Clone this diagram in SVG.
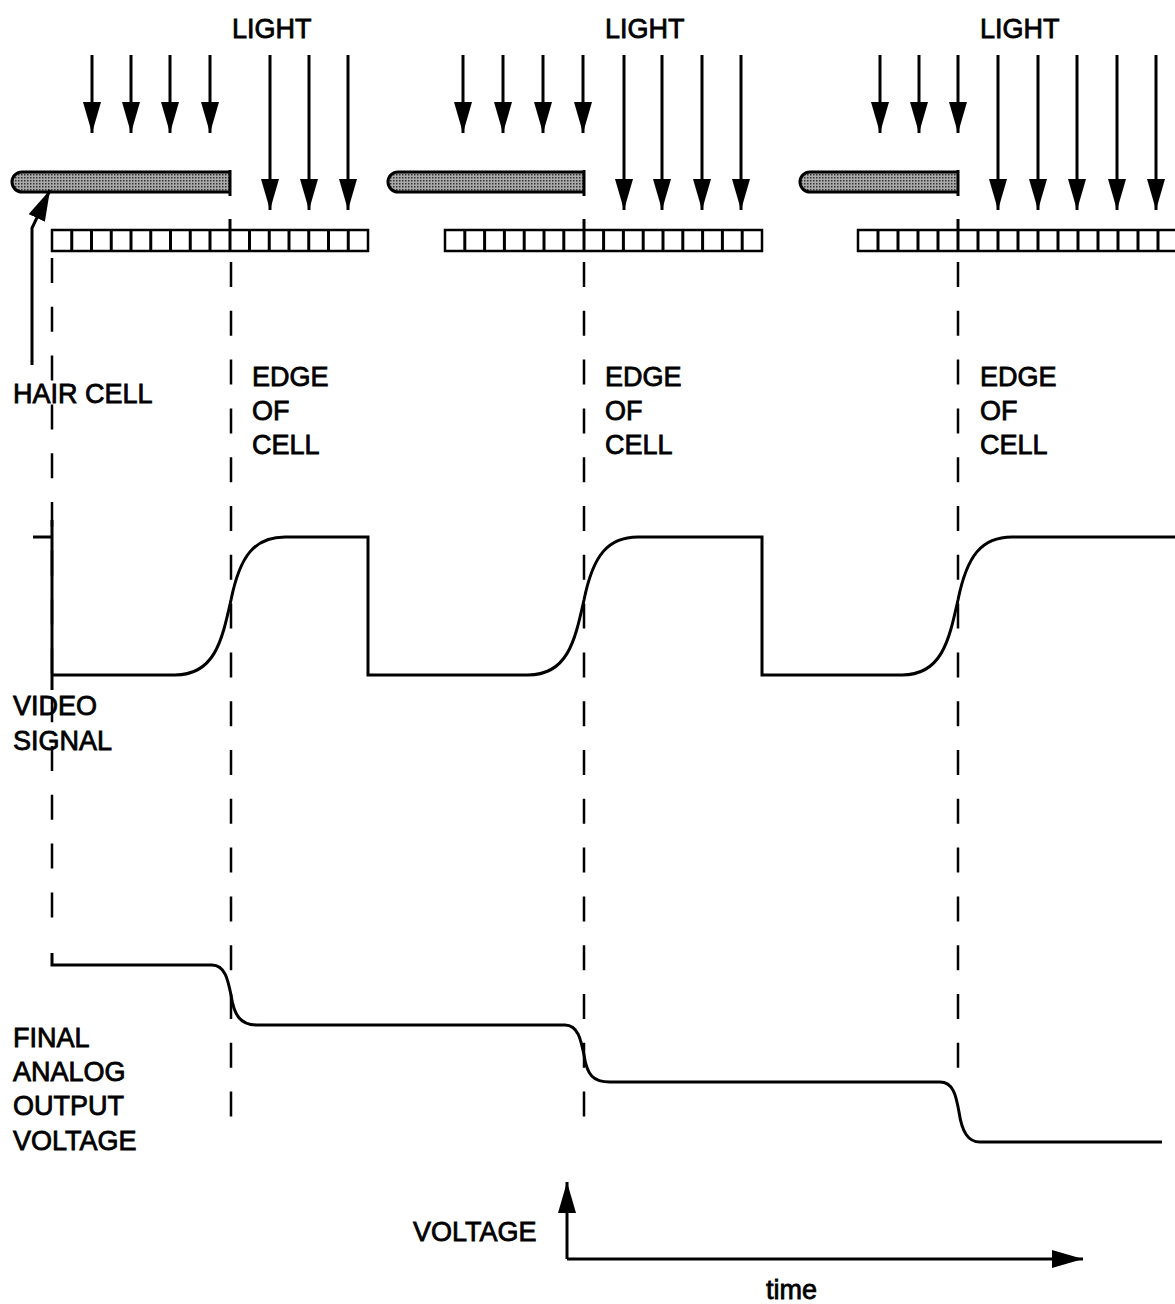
<svg xmlns="http://www.w3.org/2000/svg" width="1175" height="1304" viewBox="0 0 1175 1304">
<style>
.t{font-family:"Liberation Sans",Arial,sans-serif;font-size:27px;fill:#000;stroke:#000;stroke-width:0.8}
.ln{stroke:#000;stroke-width:3;fill:none}
.ar{stroke:#000;stroke-width:3;fill:none;marker-end:url(#ah)}
.ds{stroke:#000;stroke-width:2.5;fill:none;stroke-dasharray:25 23.8}
.hc{stroke:#000;stroke-width:3;fill:url(#hatch)}
.cell{stroke:#000;stroke-width:2.5;fill:#fff}
.wv{stroke:#000;stroke-width:3;fill:none}
</style>
<defs>
<marker id="ah" markerUnits="userSpaceOnUse" markerWidth="34" markerHeight="20" refX="31" refY="9" orient="auto">
<path d="M0,0 L31,9 L0,18 Z" fill="#000"/>
</marker>
<pattern id="hatch" width="3" height="3" patternUnits="userSpaceOnUse">
<rect width="3" height="3" fill="#aaaaaa"/>
<rect width="1.5" height="1.5" fill="#333"/>
</pattern>
</defs>

<g id="light-labels">
<text class="t" x="232" y="38">LIGHT</text>
<text class="t" x="605" y="38">LIGHT</text>
<text class="t" x="980" y="38">LIGHT</text>
</g>

<g id="light-arrows">
<line class="ar" x1="92" y1="55" x2="92" y2="133"/>
<line class="ar" x1="131" y1="55" x2="131" y2="133"/>
<line class="ar" x1="170" y1="55" x2="170" y2="133"/>
<line class="ar" x1="210" y1="55" x2="210" y2="133"/>
<line class="ar" x1="270" y1="55" x2="270" y2="210"/>
<line class="ar" x1="309" y1="55" x2="309" y2="210"/>
<line class="ar" x1="348" y1="55" x2="348" y2="210"/>

<line class="ar" x1="463" y1="55" x2="463" y2="133"/>
<line class="ar" x1="503" y1="55" x2="503" y2="133"/>
<line class="ar" x1="543" y1="55" x2="543" y2="133"/>
<line class="ar" x1="583" y1="55" x2="583" y2="133"/>
<line class="ar" x1="624" y1="55" x2="624" y2="210"/>
<line class="ar" x1="662" y1="55" x2="662" y2="210"/>
<line class="ar" x1="702" y1="55" x2="702" y2="210"/>
<line class="ar" x1="741" y1="55" x2="741" y2="210"/>

<line class="ar" x1="880" y1="55" x2="880" y2="133"/>
<line class="ar" x1="919" y1="55" x2="919" y2="133"/>
<line class="ar" x1="958" y1="55" x2="958" y2="133"/>
<line class="ar" x1="998" y1="55" x2="998" y2="210"/>
<line class="ar" x1="1038" y1="55" x2="1038" y2="210"/>
<line class="ar" x1="1077" y1="55" x2="1077" y2="210"/>
<line class="ar" x1="1117" y1="55" x2="1117" y2="210"/>
<line class="ar" x1="1156" y1="55" x2="1156" y2="210"/>
</g>

<g id="hair-cell-1">
<path class="hc" d="M230,172 L22,172 A10,10 0 0 0 22,192 L230,192"/>
<line class="ln" x1="230" y1="170" x2="230" y2="196"/>
</g>
<g id="hair-cell-2">
<path class="hc" d="M584,172 L398,172 A10,10 0 0 0 398,192 L584,192"/>
<line class="ln" x1="584" y1="170" x2="584" y2="196"/>
</g>
<g id="hair-cell-3">
<path class="hc" d="M958,172 L810,172 A10,10 0 0 0 810,192 L958,192"/>
<line class="ln" x1="958" y1="170" x2="958" y2="196"/>
</g>

<g id="array-1">
<rect class="cell" x="52" y="230" width="316" height="21"/>
<path class="ln" stroke-width="2.5" d="M71.75,230v21M91.5,230v21M111.25,230v21M131,230v21M150.75,230v21M170.5,230v21M190.25,230v21M210,230v21M249.5,230v21M269.25,230v21M289,230v21M308.75,230v21M328.5,230v21M348.25,230v21"/>
<line class="ln" x1="230" y1="219" x2="230" y2="251"/>
</g>
<g id="array-2">
<rect class="cell" x="445" y="230" width="317" height="21"/>
<path class="ln" stroke-width="2.5" d="M464.8,230v21M484.6,230v21M504.4,230v21M524.2,230v21M544,230v21M563.8,230v21M603.6,230v21M623.4,230v21M643.2,230v21M663,230v21M682.8,230v21M702.6,230v21M722.4,230v21M742.2,230v21"/>
<line class="ln" x1="584" y1="219" x2="584" y2="251"/>
</g>
<g id="array-3">
<rect class="cell" x="858" y="230" width="330" height="21"/>
<path class="ln" stroke-width="2.5" d="M878,230v21M898,230v21M918,230v21M938,230v21M978,230v21M998,230v21M1018,230v21M1038,230v21M1058,230v21M1078,230v21M1098,230v21M1118,230v21M1138,230v21M1158,230v21"/>
<line class="ln" x1="958" y1="219" x2="958" y2="251"/>
</g>

<g id="connectors">
<polyline class="ar" points="32,365 32,228 50,190"/>
<line class="ds" x1="52" y1="258" x2="52" y2="920"/>
<line class="ds" x1="231" y1="262" x2="231" y2="1118"/>
<line class="ds" x1="584" y1="262" x2="584" y2="1118"/>
<line class="ds" x1="958" y1="262" x2="958" y2="1068"/>
<line class="ar" x1="567" y1="1259" x2="567" y2="1182"/>
<line class="ar" x1="567" y1="1259" x2="1083" y2="1259"/>
</g>

<g id="video-signal">
<line class="ln" x1="33" y1="537" x2="52" y2="537"/>
<line class="ln" x1="52" y1="520" x2="52" y2="690"/>
<path class="wv" d="M52,675 L175,675 C215,675 222,640 231,600 C240,555 255,537 285,537 L368,537 L368,675 L528,675 C568,675 575,640 584,600 C593,555 608,537 638,537 L762,537 L762,675 L902,675 C942,675 949,640 958,600 C967,555 982,537 1012,537 L1175,537"/>
</g>

<g id="output-voltage">
<path class="wv" d="M52,953 L52,965 L212,965 C225,965 228,980 231,995 C234,1015 240,1025 257,1025 L565,1025 C578,1025 581,1040 584,1055 C587,1075 593,1082 610,1082 L940,1082 C953,1082 956,1095 959,1112 C962,1132 968,1142 980,1142 L1162,1142"/>
</g>

<g id="labels">
<text class="t" x="13" y="403">HAIR CELL</text>
<text class="t" x="252" y="386">EDGE</text>
<text class="t" x="252" y="420">OF</text>
<text class="t" x="252" y="454">CELL</text>
<text class="t" x="605" y="386">EDGE</text>
<text class="t" x="605" y="420">OF</text>
<text class="t" x="605" y="454">CELL</text>
<text class="t" x="980" y="386">EDGE</text>
<text class="t" x="980" y="420">OF</text>
<text class="t" x="980" y="454">CELL</text>
<text class="t" x="13" y="715">VIDEO</text>
<text class="t" x="13" y="750">SIGNAL</text>
<text class="t" x="13" y="1047">FINAL</text>
<text class="t" x="13" y="1081">ANALOG</text>
<text class="t" x="13" y="1115">OUTPUT</text>
<text class="t" x="13" y="1150">VOLTAGE</text>
<text class="t" x="413" y="1241">VOLTAGE</text>
<text class="t" x="766" y="1299">time</text>
</g>
</svg>
